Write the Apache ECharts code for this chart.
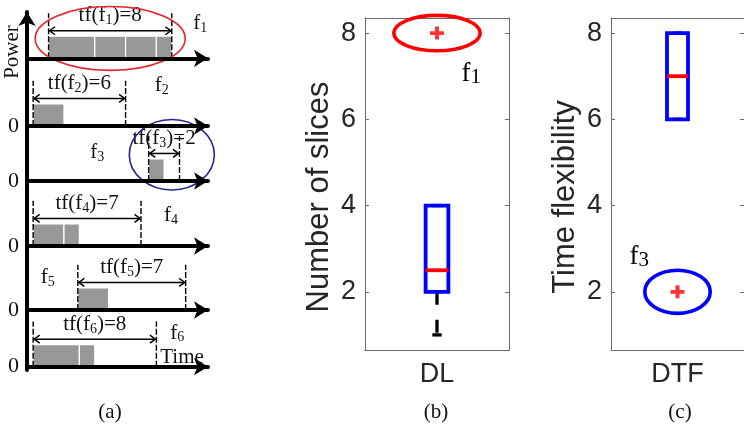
<!DOCTYPE html>
<html><head><meta charset="utf-8">
<script src="https://cdn.jsdelivr.net/npm/echarts@6/dist/echarts.min.js"></script>
<style>html,body{margin:0;padding:0;background:#fff}#c{width:744px;height:441px}</style>
</head><body><div id="c"></div>
<script>
// ---------- Panel (a): flows, their time windows and slices ----------
const flowSubs    = ['1', '2', '3', '4', '5', '6'];
const timeFlex    = [8, 6, 2, 7, 7, 8];              // tf(f_i)
const windowStart = [1, 0, 7.5, 0, 2.9, 0];          // start of each time window
const sliceStarts = [[1, 4, 6, 8], [0], [7.5], [0, 2], [2.9], [0, 3]];
const sliceEnds   = [[4, 6, 8, 9], [2], [8.5], [2, 3], [4.9], [3, 4]];
const slicePower  = 1;
// ---------- Panels (b), (c): box plots ----------
const dlCategory  = ['DL'];
const dlBox       = [1, 2, 2.5, 4, 4];   // min, q1, median, q3, max
const dlOutliers  = [8];
const dtfCategory = ['DTF'];
const dtfBox      = [6, 6, 7, 8, 8];
const dtfOutliers = [2];
const yTicks      = [2, 4, 6, 8];

// ---------- layout / style constants ----------
const SERIF = '"Liberation Serif", "DejaVu Serif", serif';
const SANS  = '"Liberation Sans", Arial, sans-serif';
const rowBaselines = [58.3, 126, 181, 246, 310, 366.7];
const ROW_H = 50, T_MIN = -0.4, T_MAX = 11.35, P_MAX = 2.27;
const DASH_TOP = 2.05, ARROW_Y = 1.25, TEXT_Y = 1.9;
// anchors (time, level) of the f_i names in panel (a)
const flowLabelAnchor = [[10.4, 1.55], [7.9, 1.8], [3.7, 1.25], [8.5, 1.35], [0.5, 1.45], [8.9, 1.5]];

const richA = {
  m: {fontSize: 21, fontFamily: SERIF, lineHeight: 22, verticalAlign: 'top', padding: [0, 0, 7, 0], fill: '#111'},
  s: {fontSize: 14, fontFamily: SERIF, lineHeight: 15, verticalAlign: 'bottom', fill: '#111'}
};
const richB = {
  m: {fontSize: 27, fontFamily: SERIF, lineHeight: 28, verticalAlign: 'top', padding: [0, 0, 9, 0], fill: '#000'},
  s: {fontSize: 21, fontFamily: SERIF, lineHeight: 22, verticalAlign: 'bottom', fill: '#000'}
};

function sliceRender(params, api) {
  const a = api.coord([api.value(0), api.value(2)]);
  const b = api.coord([api.value(1), 0]);
  return {type: 'rect', shape: {x: a[0], y: a[1], width: b[0] - a[0], height: b[1] - a[1]},
          style: {fill: '#989898', stroke: '#fff', lineWidth: 1.2}};
}

function windowRender(params, api) {
  const ws = api.value(0), we = api.value(1), r = api.value(2);
  const p0 = api.coord([ws, 0]), p1 = api.coord([we, 0]);
  const top = api.coord([ws, DASH_TOP])[1];
  const ay = api.coord([ws, ARROW_Y])[1];
  const ty = api.coord([ws, TEXT_Y])[1];
  const la = api.coord(flowLabelAnchor[r]);
  const ls = {stroke: '#000', lineWidth: 1.5};
  const ah = 6.5, aw = 4;
  return {type: 'group', children: [
    {type: 'line', shape: {x1: p0[0], y1: p0[1], x2: p0[0], y2: top}, style: {stroke: '#000', lineWidth: 1.4, lineDash: [6, 2]}},
    {type: 'line', shape: {x1: p1[0], y1: p1[1], x2: p1[0], y2: top}, style: {stroke: '#000', lineWidth: 1.4, lineDash: [6, 2]}},
    {type: 'line', shape: {x1: p0[0] + 1, y1: ay, x2: p1[0] - 1, y2: ay}, style: ls},
    {type: 'polyline', shape: {points: [[p0[0] + ah, ay - aw], [p0[0] + 1, ay], [p0[0] + ah, ay + aw]]}, style: Object.assign({fill: null}, ls)},
    {type: 'polyline', shape: {points: [[p1[0] - ah, ay - aw], [p1[0] - 1, ay], [p1[0] - ah, ay + aw]]}, style: Object.assign({fill: null}, ls)},
    {type: 'text', x: (p0[0] + p1[0]) / 2, y: ty,
     style: {text: '{m|tf(f}{s|' + flowSubs[r] + '}{m|)=' + timeFlex[r] + '}', rich: richA, align: 'center', verticalAlign: 'middle'}},
    {type: 'text', x: la[0], y: la[1],
     style: {text: '{m|f}{s|' + flowSubs[r] + '}', rich: richA, align: 'left', verticalAlign: 'middle'}}
  ]};
}

// ellipse highlight in panel (a): centred on the flow window
function highlightA(color, dt, dy, rxT, ryP) {
  return function (params, api) {
    const c = api.coord([api.value(0) + dt, dy]);
    const s = api.size([rxT, ryP]);
    return {type: 'ellipse', shape: {cx: c[0], cy: c[1], rx: s[0], ry: s[1]},
            style: {fill: null, stroke: color, lineWidth: 1.6}};
  };
}

function boxRender(params, api) {
  const x = api.value(0);
  const v = [1, 2, 3, 4, 5].map(i => api.value(i));
  const band = api.size([1, 0])[0];
  const bw = band * 0.158, cw = band * 0.065;
  const cx = api.coord([x, v[2]])[0];
  const y = val => api.coord([x, val])[1];
  const wl = {stroke: '#000', lineWidth: 3.3, lineDash: [13, 15]};
  return {type: 'group', children: [
    {type: 'line', shape: {x1: cx, y1: y(v[1]), x2: cx, y2: y(v[0])}, style: wl},
    {type: 'line', shape: {x1: cx, y1: y(v[3]), x2: cx, y2: y(v[4])}, style: wl},
    {type: 'line', shape: {x1: cx - cw / 2, y1: y(v[0]), x2: cx + cw / 2, y2: y(v[0])}, style: {stroke: '#000', lineWidth: 3.3}},
    {type: 'line', shape: {x1: cx - cw / 2, y1: y(v[4]), x2: cx + cw / 2, y2: y(v[4])}, style: {stroke: '#000', lineWidth: 3.3}},
    {type: 'rect', shape: {x: cx - bw / 2, y: y(v[3]), width: bw, height: y(v[1]) - y(v[3])},
     style: {fill: null, stroke: '#0000ff', lineWidth: 3.8}},
    {type: 'line', shape: {x1: cx - bw / 2, y1: y(v[2]), x2: cx + bw / 2, y2: y(v[2])}, style: {stroke: '#ff0000', lineWidth: 3.8}}
  ]};
}

function outlierHighlight(color, rxBand, ryVal, sub, ldx, ldy) {
  return function (params, api) {
    const x = api.value(0), val = api.value(1);
    const c = api.coord([x, val]);
    const band = api.size([1, 0])[0];
    const ry = api.size([0, ryVal])[1];
    const lp = api.coord([x, val + ldy]);
    return {type: 'group', children: [
      {type: 'ellipse', shape: {cx: c[0], cy: c[1], rx: band * rxBand, ry: ry},
       style: {fill: null, stroke: color, lineWidth: 3.6}},
      {type: 'text', x: c[0] + band * ldx, y: lp[1],
       style: {text: '{m|f}{s|' + sub + '}', rich: richB, align: 'left', verticalAlign: 'middle'}}
    ]};
  };
}

const grids = [], xAxes = [], yAxes = [], series = [];
rowBaselines.forEach((b, r) => {
  grids.push({left: 27, top: b - ROW_H, width: 181, height: ROW_H});
  xAxes.push({type: 'value', gridIndex: r, min: T_MIN, max: T_MAX, z: 10,
    axisLine: {show: true, onZero: false, symbol: ['none', 'arrow'], symbolSize: [13, 14], lineStyle: {color: '#000', width: 4}},
    axisTick: {show: false}, axisLabel: {show: false}, splitLine: {show: false}});
  yAxes.push({type: 'value', gridIndex: r, min: 0, max: P_MAX,
    axisLine: {show: false},
    axisTick: {show: r > 0, customValues: [0], length: 5, lineStyle: {color: '#000', width: 1.5}},
    axisLabel: {show: r > 0, customValues: [0], margin: 8, fontFamily: SERIF, fontSize: 22, color: '#111'},
    splitLine: {show: false}});
  series.push({type: 'custom', xAxisIndex: r, yAxisIndex: r, silent: true, z: 2,
    data: sliceStarts[r].map((s, k) => [s, sliceEnds[r][k], slicePower]), renderItem: sliceRender});
  series.push({type: 'custom', xAxisIndex: r, yAxisIndex: r, silent: true, z: 3,
    data: [[windowStart[r], windowStart[r] + timeFlex[r], r]], renderItem: windowRender});
});
// highlights in (a)
series.push({type: 'custom', xAxisIndex: 0, yAxisIndex: 0, silent: true, z: 4,
  data: [[windowStart[0] + timeFlex[0] / 2]], renderItem: highlightA('#e8202a', 0, 0.9, 4.87, 1.45)});
series.push({type: 'custom', xAxisIndex: 2, yAxisIndex: 2, silent: true, z: 4,
  data: [[windowStart[2] + timeFlex[2] / 2]], renderItem: highlightA('#262690', 0.5, 1.19, 2.76, 1.6)});

// main vertical axis of (a)
grids.push({left: 27, top: 12, width: 10, height: 358});
xAxes.push({type: 'value', gridIndex: 6, show: false});
yAxes.push({type: 'value', gridIndex: 6, min: 0, max: 1,
  axisLine: {show: true, symbol: ['none', 'arrow'], symbolSize: [13, 14], lineStyle: {color: '#000', width: 4}},
  axisTick: {show: false}, axisLabel: {show: false}, splitLine: {show: false}});

// panels (b) and (c)
function boxPanel(gi, left, width, cats, stats, outs, name, color, rxBand, ryVal, sub, ldx, ldy) {
  grids.push({left: left, top: 18, width: width, height: 332});
  const axisCol = '#6b6b6b';
  xAxes.push({type: 'category', gridIndex: gi, data: cats,
    axisLine: {lineStyle: {color: axisCol, width: 1}},
    axisTick: {inside: true, alignWithLabel: true, length: 4, lineStyle: {color: axisCol}},
    axisLabel: {fontFamily: SANS, fontSize: 27, color: '#262626', margin: 11}});
  xAxes.push({type: 'category', gridIndex: gi, data: cats, position: 'top',
    axisLine: {lineStyle: {color: axisCol, width: 1}},
    axisTick: {inside: true, alignWithLabel: true, length: 4, lineStyle: {color: axisCol}},
    axisLabel: {show: false}});
  yAxes.push({type: 'value', gridIndex: gi, min: 0.65, max: 8.35, position: 'left',
    axisLine: {show: true, lineStyle: {color: axisCol, width: 1}},
    axisTick: {show: true, inside: true, length: 4, customValues: yTicks, lineStyle: {color: axisCol}},
    axisLabel: {customValues: yTicks, fontFamily: SANS, fontSize: 27, color: '#262626', margin: 9},
    splitLine: {show: false},
    name: name, nameLocation: 'middle', nameGap: 30,
    nameTextStyle: {fontFamily: SANS, fontSize: 31, color: '#262626', padding: [0, 26, 0, 0]}});
  yAxes.push({type: 'value', gridIndex: gi, min: 0.65, max: 8.35, position: 'right',
    axisLine: {show: true, lineStyle: {color: axisCol, width: 1}},
    axisTick: {show: true, inside: true, length: 4, customValues: yTicks, lineStyle: {color: axisCol}},
    axisLabel: {show: false}, splitLine: {show: false}});
  const xi = xAxes.length - 2, yi = yAxes.length - 2;
  series.push({type: 'custom', xAxisIndex: xi, yAxisIndex: yi, silent: true,
    encode: {x: 0, y: [1, 2, 3, 4, 5]},
    data: [[0].concat(stats)], renderItem: boxRender});
  series.push({type: 'scatter', xAxisIndex: xi, yAxisIndex: yi, silent: true,
    symbol: 'path://M5,0H9V5H14V9H9V14H5V9H0V5H5Z', symbolSize: [14, 13],
    itemStyle: {color: '#ff0000'}, data: outs.map(v => [0, v])});
  series.push({type: 'custom', xAxisIndex: xi, yAxisIndex: yi, silent: true,
    encode: {x: 0, y: 1},
    data: outs.map(v => [0, v]), renderItem: outlierHighlight(color, rxBand, ryVal, sub, ldx, ldy)});
}
boxPanel(7, 365, 144, dlCategory, dlBox, dlOutliers, 'Number of slices', '#ff0000', 0.3, 0.41, '1', 0.17, -0.95);
boxPanel(8, 611, 138, dtfCategory, dtfBox, dtfOutliers, 'Time flexibility', '#0000ff', 0.246, 0.5, '3', -0.36, 0.8);

const chart = echarts.init(document.getElementById('c'), null, {renderer: 'canvas'});
chart.setOption({
  animation: false,
  backgroundColor: '#fff',
  grid: grids, xAxis: xAxes, yAxis: yAxes, series: series,
  graphic: [
    {type: 'text', x: 12, y: 52, rotation: Math.PI / 2,
     style: {text: 'Power', font: '21px ' + SERIF, fill: '#111', align: 'center', verticalAlign: 'middle'}},
    {type: 'text', x: 182, y: 357,
     style: {text: 'Time', font: '21px ' + SERIF, fill: '#111', align: 'center', verticalAlign: 'middle'}},
    {type: 'text', x: 110, y: 412, style: {text: '(a)', font: '21px ' + SERIF, fill: '#111', align: 'center', verticalAlign: 'middle'}},
    {type: 'text', x: 436, y: 412, style: {text: '(b)', font: '21px ' + SERIF, fill: '#111', align: 'center', verticalAlign: 'middle'}},
    {type: 'text', x: 680, y: 412, style: {text: '(c)', font: '21px ' + SERIF, fill: '#111', align: 'center', verticalAlign: 'middle'}}
  ]
});
</script></body></html>
